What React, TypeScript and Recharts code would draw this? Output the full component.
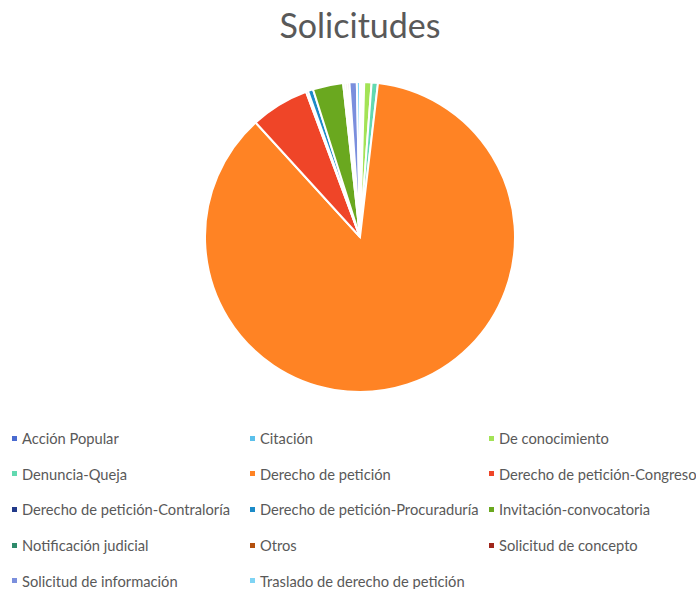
import { Legend, Pie, PieChart, Cell } from "recharts";

const categories = [
  "Acción Popular",
  "Citación",
  "De conocimiento",
  "Denuncia-Queja",
  "Derecho de petición",
  "Derecho de petición-Congreso",
  "Derecho de petición-Contraloría",
  "Derecho de petición-Procuraduría",
  "Invitación-convocatoria",
  "Notificación judicial",
  "Otros",
  "Solicitud de concepto",
  "Solicitud de información",
  "Traslado de derecho de petición",
];

const values = [2, 2, 7, 6, 793, 56, 2, 5, 29, 2, 2, 2, 7, 3];

const colors = [
  "#4A6BD0",
  "#5BC0EB",
  "#A3E356",
  "#62D9B0",
  "#FF8324",
  "#EF4528",
  "#223A8A",
  "#1C8BC8",
  "#6AA81F",
  "#2E8B6B",
  "#B3500E",
  "#A0261B",
  "#7B8FDD",
  "#7FD4F4",
];

const data = categories.map((name, i) => ({ name, value: values[i] }));

// columnas de la leyenda (posición x del marcador)
const legendCols = [12, 250, 489];

function LegendGrid() {
  return (
    <div style={{ position: "relative", width: 696, height: 165 }}>
      {categories.map((name, i) => {
        const col = i % 3;
        const row = Math.floor(i / 3);
        return (
          <div
            key={name}
            style={{
              position: "absolute",
              left: legendCols[col],
              top: row * 35.7,
              display: "flex",
              alignItems: "center",
              whiteSpace: "nowrap",
              fontFamily: "Lato, 'Open Sans', sans-serif",
              fontSize: 14.7,
              color: "#595959",
              height: 20,
            }}
          >
            <span style={{ width: 5, height: 5, background: colors[i], display: "inline-block", marginRight: 5 }} />
            {name}
          </div>
        );
      })}
    </div>
  );
}

export default function App() {
  return (
    <div style={{ position: "absolute", left: 0, top: 0, width: 696, height: 589, background: "#fff" }}>
      <div
        style={{
          position: "absolute",
          left: 0,
          top: 4,
          width: 720,
          textAlign: "center",
          fontFamily: "Lato, 'Open Sans', sans-serif",
          fontSize: 34,
          color: "#595959",
        }}
      >
        Solicitudes
      </div>
      <PieChart width={696} height={589} margin={{ top: 0, right: 0, bottom: 0, left: 0 }}>
        <Pie
          data={data}
          dataKey="value"
          nameKey="name"
          cx={360}
          cy={237}
          outerRadius={155}
          startAngle={90}
          endAngle={-270}
          stroke="#fff"
          strokeWidth={2}
          isAnimationActive={false}
        >
          {data.map((d, i) => (
            <Cell key={d.name} fill={colors[i]} />
          ))}
        </Pie>
        <Legend content={() => <LegendGrid />} wrapperStyle={{ left: 0, top: 428, width: 696 }} />
      </PieChart>
    </div>
  );
}
